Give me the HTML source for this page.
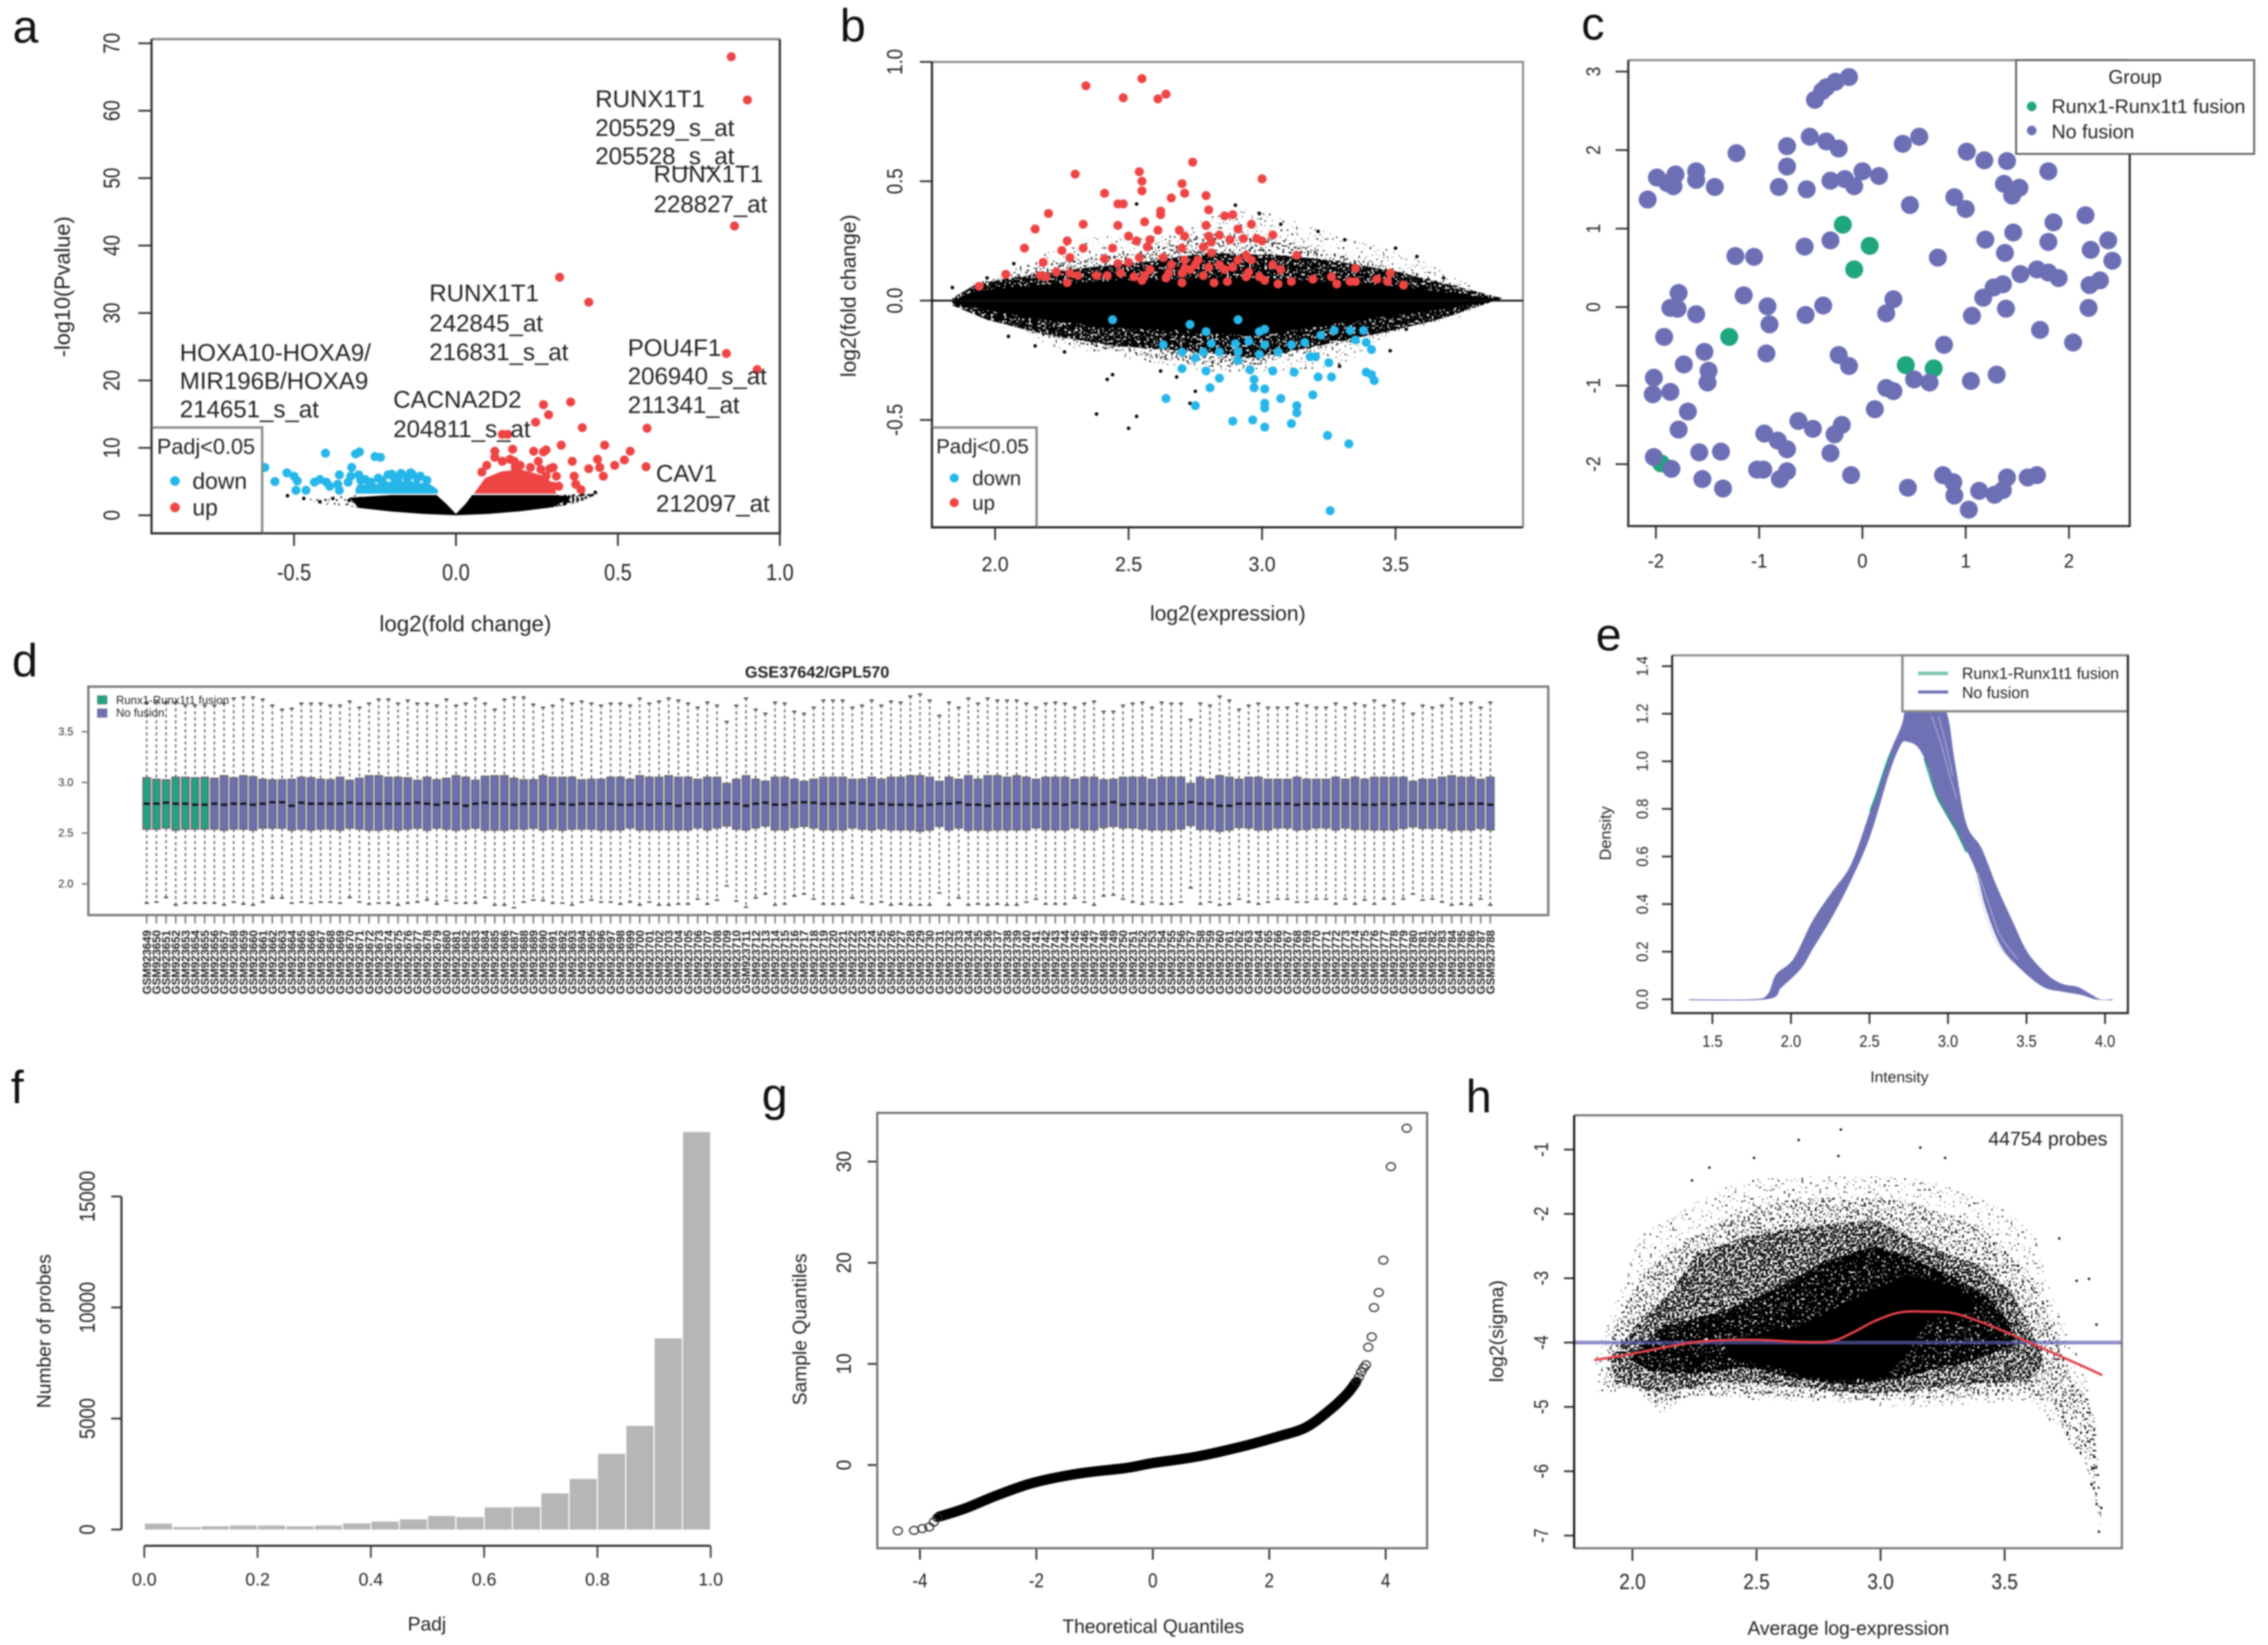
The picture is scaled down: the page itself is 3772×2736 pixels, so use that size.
<!DOCTYPE html>
<html lang="en">
<head>
<meta charset="utf-8">
<title>Microarray differential expression figure</title>
<style>
html,body{margin:0;padding:0;background:#fff;width:3772px;height:2736px;overflow:hidden}
svg{display:block;filter:blur(1.4px)}
text{font-family:"Liberation Sans",sans-serif;fill:#222}
.letter{font-size:77px;fill:#111}
</style>
</head>
<body>
<svg id="fig" xmlns="http://www.w3.org/2000/svg" width="3772" height="2736" viewBox="0 0 3772 2736">
<defs>
<filter id="speck-rare" x="0" y="0" width="100%" height="100%" color-interpolation-filters="sRGB">
<feTurbulence type="fractalNoise" baseFrequency="0.27" numOctaves="1" seed="4" result="n"/>
<feColorMatrix in="n" values="0 0 0 0 0 0 0 0 0 0 0 0 0 0 0 40 0 0 0 -27" result="m"/>
<feComposite in="SourceGraphic" in2="m" operator="in"/>
</filter>
<filter id="speck-sparse" x="0" y="0" width="100%" height="100%" color-interpolation-filters="sRGB">
<feTurbulence type="fractalNoise" baseFrequency="0.27" numOctaves="1" seed="7" result="n"/>
<feColorMatrix in="n" values="0 0 0 0 0 0 0 0 0 0 0 0 0 0 0 40 0 0 0 -24" result="m"/>
<feComposite in="SourceGraphic" in2="m" operator="in"/>
</filter>
<filter id="speck-mid" x="0" y="0" width="100%" height="100%" color-interpolation-filters="sRGB">
<feTurbulence type="fractalNoise" baseFrequency="0.27" numOctaves="1" seed="9" result="n"/>
<feColorMatrix in="n" values="0 0 0 0 0 0 0 0 0 0 0 0 0 0 0 40 0 0 0 -20" result="m"/>
<feComposite in="SourceGraphic" in2="m" operator="in"/>
</filter>
<filter id="speck-dense" x="0" y="0" width="100%" height="100%" color-interpolation-filters="sRGB">
<feTurbulence type="fractalNoise" baseFrequency="0.27" numOctaves="1" seed="15" result="n"/>
<feColorMatrix in="n" values="0 0 0 0 0 0 0 0 0 0 0 0 0 0 0 40 0 0 0 -16" result="m"/>
<feComposite in="SourceGraphic" in2="m" operator="in"/>
</filter>
</defs>
<rect x="0" y="0" width="3772" height="2736" fill="#fff"/>

<!-- PANEL A -->
<g>
<text class="letter" x="21" y="71">a</text>
<g id="a-marks"></g>
<g id="a-axes"></g>
<path d="M252 65H1297" stroke="#8a8a8a" stroke-width="4" fill="none"/>
<path d="M1297 65V887H252V65" stroke="#2a2a2a" stroke-width="3.5" fill="none"/>
<g font-size="40">
<text x="990" y="178" font-size="40">RUNX1T1</text>
<text x="990" y="226" font-size="40">205529_s_at</text>
<text x="990" y="273" font-size="40">205528_s_at</text>
<text x="1087" y="303" font-size="40">RUNX1T1</text>
<text x="1087" y="353" font-size="40">228827_at</text>
<text x="714" y="501" font-size="40">RUNX1T1</text>
<text x="714" y="551" font-size="40">242845_at</text>
<text x="714" y="599" font-size="40">216831_s_at</text>
<text x="299" y="600" font-size="40">HOXA10-HOXA9/</text>
<text x="299" y="647" font-size="40">MIR196B/HOXA9</text>
<text x="299" y="694" font-size="40">214651_s_at</text>
<text x="654" y="678" font-size="40">CACNA2D2</text>
<text x="654" y="727" font-size="40">204811_s_at</text>
<text x="1044" y="592" font-size="40">POU4F1</text>
<text x="1044" y="639" font-size="40">206940_s_at</text>
<text x="1044" y="687" font-size="40">211341_at</text>
<text x="1091" y="801" font-size="40">CAV1</text>
<text x="1091" y="851" font-size="40">212097_at</text>
</g>
<g>
<rect x="252" y="711" width="184" height="176" fill="#fff"/>
<path d="M252 711H436V887" fill="none" stroke="#8a8a8a" stroke-width="4"/>
<path d="M252 711V887H436" fill="none" stroke="#2a2a2a" stroke-width="3.5"/>
<text x="261" y="755" font-size="36">Padj&lt;0.05</text>
<circle cx="291" cy="800" r="8" fill="#27b6ea"/>
<text x="320" y="813" font-size="38">down</text>
<circle cx="291" cy="844" r="8" fill="#ee4444"/>
<text x="320" y="857" font-size="38">up</text>
</g>
<text transform="translate(116,477) rotate(-90)" text-anchor="middle" font-size="36">-log10(Pvalue)</text>
<text x="774" y="1050" text-anchor="middle" font-size="37">log2(fold change)</text>
</g>

<!-- PANEL B -->
<g>
<text class="letter" x="1397" y="69">b</text>
<g id="b-marks"></g>
<g id="b-axes"></g>
<path d="M1550 103H2533V877" stroke="#8a8a8a" stroke-width="3.5" fill="none"/>
<path d="M1550 103V877H2533" stroke="#222" stroke-width="3.5" fill="none"/>
<path id="b-zero" d="M1550 500H2533" stroke="#111" stroke-width="3" fill="none"/>
<g>
<rect x="1550" y="711" width="174" height="166" fill="#fff"/>
<path d="M1550 711H1724V877" fill="none" stroke="#8a8a8a" stroke-width="4"/>
<path d="M1550 711V877H1724" fill="none" stroke="#222" stroke-width="3.5"/>
<text x="1557" y="754" font-size="34">Padj&lt;0.05</text>
<circle cx="1587" cy="795" r="7.5" fill="#27b6ea"/>
<text x="1617" y="807" font-size="34">down</text>
<circle cx="1587" cy="836" r="7.5" fill="#ee4444"/>
<text x="1617" y="848" font-size="34">up</text>
</g>
<text transform="translate(1423,492) rotate(-90)" text-anchor="middle" font-size="35">log2(fold change)</text>
<text x="2042" y="1032" text-anchor="middle" font-size="35">log2(expression)</text>
</g>

<!-- PANEL C -->
<g>
<text class="letter" x="2630" y="66">c</text>
<g id="c-marks"></g>
<g id="c-axes"></g>
<path d="M2708 100H3542" stroke="#8a8a8a" stroke-width="3.5" fill="none"/>
<path d="M2708 100V875H3542V100" stroke="#2a2a2a" stroke-width="3.5" fill="none"/>
<g>
<rect x="3353" y="100" width="396" height="156" fill="#fff" stroke="#5a5a5a" stroke-width="3"/>
<text x="3551" y="139" text-anchor="middle" font-size="32">Group</text>
<circle cx="3379" cy="177" r="8" fill="#1fa67f"/>
<text x="3412" y="188" font-size="32.6">Runx1-Runx1t1 fusion</text>
<circle cx="3379" cy="217" r="8" fill="#6c6fb4"/>
<text x="3412" y="230" font-size="32.6">No fusion</text>
</g>
</g>

<!-- PANEL D -->
<g>
<text class="letter" x="20" y="1125">d</text>
<text x="1359" y="1127" text-anchor="middle" font-size="27" font-weight="bold">GSE37642/GPL570</text>
<g id="d-marks"></g>
<g id="d-axes"></g>
<rect x="147" y="1142" width="2428" height="380" fill="none" stroke="#7d7f7f" stroke-width="4"/>
<g>
<rect x="162" y="1157" width="16" height="14" fill="#1fa67f" stroke="#777" stroke-width="1"/>
<text x="193" y="1171" font-size="19">Runx1-Runx1t1 fusion</text>
<rect x="162" y="1179" width="16" height="14" fill="#6c6fb4" stroke="#777" stroke-width="1"/>
<text x="193" y="1192" font-size="19">No fusion</text>
</g>
</g>

<!-- PANEL E -->
<g>
<text class="letter" x="2654" y="1082">e</text>
<g id="e-marks"></g>
<g id="e-axes"></g>
<g>
<rect x="3164" y="1090" width="375" height="93" fill="#fff" stroke="#8a8a8a" stroke-width="4"/>
<path d="M3190 1120H3240" stroke="#7dc8ae" stroke-width="6"/>
<text x="3263" y="1129" font-size="26.4">Runx1-Runx1t1 fusion</text>
<path d="M3190 1151H3240" stroke="#6c6fb4" stroke-width="5"/>
<text x="3263" y="1161" font-size="26.4">No fusion</text>
</g>
<path d="M2781 1090H3164" stroke="#8a8a8a" stroke-width="3.5" fill="none"/>
<path d="M2781 1090V1685H3539V1090" stroke="#2a2a2a" stroke-width="3.5" fill="none"/>
<text transform="translate(2679,1386) rotate(-90)" text-anchor="middle" font-size="27">Density</text>
<text x="3159" y="1800" text-anchor="middle" font-size="26">Intensity</text>
</g>

<!-- PANEL F -->
<g>
<text class="letter" x="18" y="1835">f</text>
<g id="f-marks"></g>
<g id="f-axes"></g>
<text transform="translate(84,2214) rotate(-90)" text-anchor="middle" font-size="32">Number of probes</text>
<text x="710" y="2712" text-anchor="middle" font-size="32">Padj</text>
</g>

<!-- PANEL G -->
<g>
<text class="letter" x="1267" y="1847">g</text>
<g id="g-marks"></g>
<g id="g-axes"></g>
<rect x="1459" y="1851" width="914.5" height="724" fill="none" stroke="#6e6e6e" stroke-width="3.5"/>
<text transform="translate(1341,2211) rotate(-90)" text-anchor="middle" font-size="32">Sample Quantiles</text>
<text x="1918" y="2716" text-anchor="middle" font-size="32">Theoretical Quantiles</text>
</g>

<!-- PANEL H -->
<g>
<text class="letter" x="2438" y="1850">h</text>
<g id="h-marks"></g>
<g id="h-axes"></g>
<path d="M2618 1855H3529V2575H2618" stroke="#777" stroke-width="3.5" fill="none"/>
<path d="M2618 1855V2575" stroke="#111" stroke-width="3.5" fill="none"/>
<text x="3505" y="1905" text-anchor="end" font-size="32.4">44754 probes</text>
<text transform="translate(2500,2214) rotate(-90)" text-anchor="middle" font-size="32.5">log2(sigma)</text>
<text x="3074" y="2719" text-anchor="middle" font-size="32">Average log-expression</text>
</g>
</svg>

<script>
// ---------- Panel a values (log2 fold change, -log10 p) ----------
const aXTicks = [-0.5, 0, 0.5, 1];
const aXLabels = ['-0.5', '0.0', '0.5', '1.0'];
const aYTicks = [0, 10, 20, 30, 40, 50, 60, 70];
const aYLabels = ['0', '10', '20', '30', '40', '50', '60', '70'];
const aCloudX = [-.33,-.2,-.06,-.03,0,.03,.05,.2,.3,.36,.3,.2,.1,0,-.1,-.2,-.3];
const aCloudY = [2.6,3,3,1.7,.2,1.7,3,3,3,2.8,1.2,.6,.2,0,.2,.55,1.1];
const aFringeLeftX = [-.46,-.3,-.3,-.42];
const aFringeLeftY = [2.4,3,1,1.7];
const aFringeRightX = [.3,.44,.38,.28];
const aFringeRightY = [3,3.2,1.9,1];
const aUpAreaX = [.055,.09,.14,.2,.26,.3,.31];
const aUpAreaY = [3.2,5.5,6.5,6.8,6,4.8,3.2];
const aDownAreaX = [-.31,-.31,-.25,-.2,-.13,-.08,-.056,-.056];
const aDownAreaY = [3.2,4,4.6,5,5,4.6,3.8,3.2];
const aUpX = [.85,.90,.86,.32,.41,.835,.93,.27,.354,.286,.39,.246,.59,.143,.16,.325,.459,.538,.24,.278,.175,.12,.18,.254,.359,.437,.52,.49,.587,.41,.444,.30,.365,.455,.37,.386,.31,.27,.29,.12,.143,.167,.198,.23,.262,.095,.08,.278,.317,.30,.183];
const aUpY = [68,61.6,42.9,35.3,31.6,24,21.6,16.4,16.8,14.9,13,13.8,12.9,12,12,10.4,10.4,9.5,9.5,9.7,9.8,9.5,8,8,8,8.3,8.2,7.4,7.2,6.9,7.1,7.1,5.8,5.8,4.6,3.8,5.8,9.4,6.9,8.6,8,8.3,7.4,7.1,6.8,7.4,6.4,5.8,4.3,4.3,7.1];
const aDownX = [-.403,-.31,-.298,-.25,-.233,-.59,-.522,-.559,-.5,-.49,-.494,-.463,-.437,-.42,-.4,-.39,-.36,-.365,-.36,-.322,-.325,-.333,-.294,-.294,-.262,-.222,-.198,-.167,-.135,-.18,-.12,-.24,-.21,-.17,-.14,-.11,-.09,-.19,-.15,-.23,-.28,-.3,-.27];
const aDownY = [9.2,9.1,9.4,8.7,8.6,7.1,6.3,5,5.8,5.1,3.7,3.7,4.9,5.3,4.9,4.3,6,4.6,3.7,7.1,5.8,4.9,5.2,4,4.9,4.6,6.1,6.1,6.1,5.2,5.5,5.5,6,6.2,6.3,5.8,5.2,5.5,5.4,5.2,5.3,6,4.2];
const aNsX = [-.52,-.47,-.42,-.38,-.33,-.295,.34,.43,.39,.335];
const aNsY = [2.9,2.5,2,2.5,2.2,2.5,2.2,3.4,3.1,1.7];

// ---------- Panel b values (log2 expression, log2 fold change) ----------
const bXTicks = [2, 2.5, 3, 3.5];
const bXLabels = ['2.0', '2.5', '3.0', '3.5'];
const bYTicks = [-0.5, 0, 0.5, 1];
const bYLabels = ['-0.5', '0.0', '0.5', '1.0'];
const bCoreX = [1.84,1.93,2.09,2.36,2.54,2.80,3.07,3.25,3.51,3.69,3.90,3.69,3.51,3.25,2.98,2.71,2.45,2.18,1.97,1.84];
const bCoreY = [0,.04,.06,.08,.085,.095,.09,.08,.06,.035,.003,-.035,-.06,-.1,-.15,-.125,-.115,-.08,-.04,-.012];
const bFringeX = [1.84,1.93,2.09,2.36,2.54,2.80,3.07,3.25,3.51,3.69,3.90,3.69,3.51,3.25,2.98,2.71,2.45,2.18,1.97,1.84];
const bFringeY = [.01,.07,.1,.14,.16,.2,.19,.17,.12,.07,.01,-.07,-.12,-.18,-.24,-.21,-.19,-.14,-.08,-.02];
const bMidX = [1.87,2.0,2.22,2.5,2.8,3.1,3.4,3.6,3.75,3.7,3.45,3.2,2.95,2.7,2.4,2.15,2.0,1.87];
const bMidY = [.03,.09,.16,.2,.28,.25,.16,.11,.06,-.07,-.14,-.21,-.28,-.26,-.2,-.14,-.07,-.01];
const bHaloX = [1.88,2.0,2.22,2.39,2.64,2.89,3.0,3.21,3.31,3.46,3.60,3.73,3.85,3.75,3.50,3.30,3.07,2.80,2.64,2.45,2.22,2.06,1.90];
const bHaloY = [.06,.097,.22,.27,.27,.39,.375,.30,.26,.22,.165,.095,.02,-.068,-.13,-.27,-.30,-.30,-.27,-.233,-.198,-.11,-.033];
const bNsX = [2.53,2.90,2.99,3.07,3.21,3.31,3.50,3.58,3.68,2.38,2.53,2.50,2.42,2.44,2.75,2.73,2.62,2.68,3.29,3.48,3.54,2.26,2.15,2.05,1.84,1.97,2.07];
const bNsY = [.405,.40,.365,.32,.29,.255,.22,.185,.095,-.475,-.485,-.535,-.33,-.31,-.38,-.43,-.295,-.32,-.275,-.21,-.12,-.215,-.19,-.15,.055,.095,.155];
const bUpX = [2.34,2.55,2.48,2.61,2.64,2.74,2.30,2.54,2.55,3.00,2.41,2.55,2.70,2.71,2.79,2.66,2.46,2.48,2.80,2.20,2.62,2.62,2.86,2.89,2.33,2.56,2.46,2.79,2.96,2.15,2.61,2.69,2.91,2.27,2.50,2.53,2.58,2.71,2.84,2.80,2.98,3.04,2.11,2.33,2.44,2.57,2.70,2.78,2.81,2.88,2.93,3.00,2.25,2.28,2.41,2.81,2.94,2.18,2.46,2.50,2.54,2.63,2.71,2.76,2.84,2.91,2.96,3.04,3.13,3.35,2.04,2.17,2.19,2.23,2.28,2.31,2.38,2.42,2.47,2.52,2.56,2.58,2.65,2.70,2.73,2.80,2.86,2.89,2.95,3.07,3.48,1.94,2.27,2.55,2.64,2.70,2.78,2.82,2.87,2.94,3.01,3.06,3.11,3.19,3.26,3.28,3.33,3.35,3.43,3.47,3.53,2.66,2.71,2.75,2.99];
const bUpY = [.90,.93,.85,.845,.865,.58,.53,.54,.50,.51,.45,.46,.49,.45,.44,.43,.405,.405,.38,.365,.375,.36,.355,.36,.32,.33,.315,.315,.32,.30,.295,.295,.30,.25,.27,.25,.255,.27,.275,.27,.26,.275,.22,.22,.22,.225,.22,.225,.245,.255,.26,.25,.21,.18,.175,.20,.19,.16,.155,.16,.18,.18,.17,.17,.15,.17,.17,.15,.19,.135,.11,.105,.10,.12,.115,.105,.105,.105,.115,.10,.105,.13,.115,.115,.13,.14,.13,.14,.12,.13,.115,.06,.075,.085,.095,.075,.105,.075,.08,.10,.085,.07,.08,.09,.10,.07,.08,.08,.09,.08,.065,.15,.135,.15,.10];
const bDownX = [2.44,2.73,2.91,2.99,3.01,2.79,2.63,2.81,2.90,2.95,3.01,3.11,3.16,3.22,3.27,3.33,3.38,3.35,3.39,3.41,2.78,2.84,2.91,2.99,3.06,3.18,3.20,3.25,2.70,2.75,2.91,2.70,2.79,2.955,3.04,3.12,3.21,3.26,3.39,3.41,3.42,2.84,2.97,2.97,2.805,3.01,2.64,3.07,3.19,2.75,3.01,3.01,3.13,3.13,2.89,2.965,3.01,3.11,3.245,3.325,3.255];
const bDownY = [-.08,-.10,-.08,-.13,-.12,-.13,-.185,-.18,-.18,-.17,-.185,-.185,-.175,-.145,-.125,-.125,-.125,-.165,-.175,-.205,-.215,-.215,-.215,-.225,-.215,-.235,-.235,-.26,-.215,-.24,-.25,-.285,-.295,-.29,-.295,-.30,-.32,-.32,-.30,-.31,-.335,-.325,-.33,-.365,-.365,-.37,-.41,-.41,-.395,-.44,-.43,-.45,-.44,-.47,-.505,-.50,-.53,-.515,-.565,-.60,-.88];

// ---------- Panel c values (two projected components) ----------
const cXTicks = [-2, -1, 0, 1, 2];
const cXLabels = ['-2', '-1', '0', '1', '2'];
const cYTicks = [-2, -1, 0, 1, 2, 3];
const cYLabels = ['-2', '-1', '0', '1', '2', '3'];
const cFusionX = [-.19,.07,-.08,-1.29,.42,.69,-1.95];
const cFusionY = [1.05,.78,.48,-.38,-.74,-.78,-1.99];
const cOtherX = [-.46,-.39,-.35,-.26,-.13,-.51,-.35,-.23,-.73,-1.22,.39,.55,1.01,1.18,1.40,1.80,-.73,-1.99,-1.89,-1.83,-1.81,-1.61,-1.61,-1.43,-2.08,-.81,-.54,-.31,-.17,-.08,0,.16,.46,.89,1.0,1.37,1.45,1.52,2.16,1.85,1.46,1.19,1.80,2.38,2.21,2.42,1.38,.73,-.56,-.31,-1.23,-1.05,1.53,1.69,1.80,1.90,1.36,1.27,1.17,2.20,2.30,.30,.23,1.39,1.06,2.19,-1.78,-1.86,-1.79,-1.61,-1.15,-.92,-.90,-.38,-.55,-1.92,1.72,2.04,.79,-1.53,-.93,-1.73,-.23,-.13,-1.49,-1.50,-2.02,-2.03,-1.86,1.30,1.05,.50,.65,.23,.30,.12,-1.69,-1.78,-.62,-.48,-.20,-.27,-.95,-.82,-.73,-.31,-1.58,-1.37,-2.02,-1.85,-1.55,-1.35,-1.02,-.96,-.80,-.73,-.11,.44,.78,.88,.89,1.03,1.13,1.28,1.36,1.40,1.60,1.69];
const cOtherY = [2.64,2.75,2.80,2.87,2.93,2.17,2.11,2.02,2.05,1.96,2.08,2.17,1.98,1.87,1.86,1.73,1.79,1.65,1.58,1.54,1.69,1.73,1.62,1.53,1.37,1.53,1.50,1.61,1.63,1.54,1.73,1.67,1.30,1.40,1.25,1.57,1.42,1.52,1.17,1.08,.95,.86,.83,.85,.73,.59,.69,.63,.77,.85,.65,.64,.42,.48,.44,.37,.29,.25,.12,.28,.34,.10,-.08,-.02,-.11,-.01,.18,-.01,-.02,-.09,.15,.01,-.22,.02,-.10,-.38,-.29,-.45,-.48,-.57,-.59,-.73,-.61,-.75,-.81,-.96,-.90,-1.11,-1.08,-.86,-.94,-.92,-.96,-1.03,-1.07,-1.30,-1.33,-1.56,-1.45,-1.55,-1.50,-1.62,-1.61,-1.70,-1.81,-1.86,-1.85,-1.84,-1.91,-2.06,-2.19,-2.31,-2.07,-2.07,-2.19,-2.09,-2.14,-2.30,-2.14,-2.23,-2.40,-2.58,-2.34,-2.39,-2.33,-2.17,-2.17,-2.14];

// ---------- Panel d values (per-sample box statistics) ----------
const dYTicks = [2, 2.5, 3, 3.5];
const dYLabels = ['2.0', '2.5', '3.0', '3.5'];
const dFusionCount = 7;
const dWhiskerHigh = [3.79,3.79,3.79,3.79,3.76,3.76,3.76,3.76,3.78,3.83,3.84,3.84,3.82,3.76,3.72,3.73,3.78,3.78,3.78,3.76,3.76,3.80,3.74,3.78,3.82,3.82,3.78,3.81,3.78,3.78,3.76,3.82,3.76,3.78,3.83,3.78,3.72,3.82,3.84,3.84,3.77,3.74,3.76,3.82,3.78,3.80,3.78,
3.76,3.78,3.78,3.76,3.83,3.78,3.80,3.83,3.81,3.78,3.74,3.79,3.76,3.60,3.76,3.83,3.72,3.68,3.79,3.78,3.70,3.68,3.74,3.81,3.81,3.81,3.74,3.76,3.81,3.76,3.80,3.79,3.85,3.87,3.81,3.66,3.79,3.74,3.83,3.78,3.83,3.81,3.81,3.81,3.78,3.74,3.78,3.79,3.78,3.74,
3.78,3.80,3.70,3.70,3.76,3.78,3.79,3.74,3.79,3.78,3.78,3.62,3.78,3.76,3.85,3.81,3.72,3.76,3.78,3.74,3.74,3.74,3.78,3.76,3.74,3.74,3.78,3.74,3.78,3.76,3.81,3.76,3.81,3.78,3.68,3.76,3.74,3.76,3.83,3.78,3.79,3.74,3.79];
const dWhiskerLow = [1.81,1.82,1.865,1.79,1.81,1.81,1.81,1.81,1.79,1.82,1.80,1.79,1.82,1.86,1.86,1.81,1.82,1.81,1.82,1.82,1.81,1.865,1.82,1.80,1.81,1.81,1.79,1.81,1.82,1.84,1.80,1.835,1.81,1.81,1.81,1.865,1.79,1.79,1.765,1.82,1.84,1.835,1.81,1.81,1.79,1.82,1.84,
1.82,1.82,1.80,1.82,1.79,1.82,1.79,1.79,1.80,1.80,1.85,1.80,1.84,1.98,1.83,1.77,1.86,1.90,1.79,1.80,1.88,1.90,1.85,1.80,1.80,1.80,1.86,1.82,1.80,1.82,1.79,1.80,1.79,1.79,1.79,1.91,1.79,1.86,1.79,1.80,1.79,1.80,1.79,1.79,1.82,1.85,1.80,1.80,1.80,1.86,
1.82,1.79,1.88,1.89,1.85,1.82,1.80,1.82,1.80,1.80,1.82,1.96,1.80,1.82,1.79,1.80,1.85,1.82,1.80,1.82,1.85,1.85,1.82,1.82,1.85,1.85,1.80,1.85,1.80,1.84,1.80,1.85,1.80,1.85,1.90,1.84,1.85,1.82,1.79,1.80,1.79,1.85,1.79];
const dQ3 = [3.045,3.03,3.025,3.05,3.05,3.045,3.05,3.04,3.065,3.045,3.065,3.055,3.03,3.025,3.025,3.03,3.05,3.045,3.03,3.025,3.05,3.02,3.04,3.065,3.065,3.05,3.05,3.045,3.02,3.05,3.025,3.04,3.065,3.05,3.02,3.06,3.065,3.065,3.04,3.025,3.025,3.065,3.05,3.05,3.05,3.025,3.03,
3.03,3.05,3.05,3.03,3.065,3.05,3.05,3.065,3.05,3.05,3.03,3.05,3.05,2.99,3.03,3.065,3.03,3.01,3.05,3.05,3.03,3.01,3.03,3.05,3.05,3.05,3.03,3.03,3.05,3.03,3.05,3.05,3.065,3.065,3.05,3.01,3.05,3.03,3.065,3.03,3.065,3.065,3.05,3.065,3.05,3.03,3.05,3.05,3.05,3.03,
3.05,3.05,3.025,3.03,3.05,3.05,3.05,3.03,3.05,3.05,3.05,2.99,3.05,3.03,3.065,3.05,3.03,3.05,3.05,3.03,3.03,3.03,3.05,3.03,3.03,3.03,3.05,3.03,3.05,3.03,3.05,3.05,3.05,3.05,3.01,3.03,3.03,3.05,3.065,3.05,3.05,3.03,3.05];
const dQ1 = [2.54,2.54,2.55,2.53,2.54,2.54,2.54,2.54,2.53,2.54,2.54,2.53,2.55,2.55,2.55,2.53,2.54,2.53,2.54,2.54,2.53,2.55,2.54,2.53,2.53,2.54,2.53,2.54,2.55,2.53,2.55,2.54,2.53,2.54,2.55,2.53,2.53,2.53,2.54,2.54,2.55,2.53,2.54,2.53,2.54,2.54,2.54,
2.532,2.532,2.532,2.552,2.532,2.532,2.532,2.532,2.532,2.532,2.552,2.532,2.552,2.572,2.54,2.532,2.552,2.572,2.532,2.532,2.556,2.568,2.552,2.532,2.532,2.532,2.552,2.54,2.532,2.544,2.532,2.532,2.532,2.52,2.532,2.568,2.532,2.552,2.528,2.532,2.528,2.532,2.532,2.532,2.532,2.552,2.532,2.532,2.532,2.552,
2.532,2.532,2.556,2.568,2.552,2.552,2.542,2.532,2.532,2.532,2.542,2.576,2.536,2.536,2.52,2.532,2.556,2.552,2.532,2.532,2.552,2.552,2.532,2.536,2.552,2.552,2.532,2.552,2.536,2.536,2.532,2.532,2.532,2.548,2.564,2.548,2.548,2.548,2.528,2.532,2.532,2.548,2.532];
const dMedian = [2.79,2.79,2.80,2.79,2.79,2.78,2.78,2.79,2.78,2.79,2.79,2.78,2.79,2.805,2.805,2.77,2.80,2.79,2.79,2.79,2.79,2.80,2.79,2.79,2.79,2.79,2.79,2.79,2.80,2.79,2.78,2.80,2.79,2.77,2.79,2.80,2.79,2.79,2.78,2.79,2.79,2.79,2.78,2.79,2.78,2.79,2.79,
2.79,2.79,2.78,2.78,2.79,2.78,2.79,2.79,2.77,2.79,2.79,2.79,2.79,2.80,2.79,2.77,2.79,2.80,2.78,2.78,2.80,2.805,2.80,2.79,2.79,2.79,2.80,2.79,2.78,2.79,2.78,2.78,2.78,2.77,2.78,2.79,2.79,2.80,2.78,2.78,2.77,2.79,2.79,2.79,2.79,2.79,2.79,2.79,2.78,2.80,
2.79,2.78,2.79,2.805,2.78,2.79,2.79,2.78,2.79,2.79,2.79,2.805,2.79,2.79,2.77,2.77,2.79,2.79,2.79,2.79,2.79,2.79,2.78,2.79,2.79,2.79,2.79,2.79,2.79,2.78,2.78,2.79,2.78,2.79,2.795,2.79,2.79,2.795,2.78,2.79,2.79,2.79,2.78];
const dSampleIds = dWhiskerHigh.map(function (v, i) { return 'GSM923' + (649 + i); });

// ---------- Panel e values (density band) ----------
const eXTicks = [1.5, 2, 2.5, 3, 3.5, 4];
const eXLabels = ['1.5', '2.0', '2.5', '3.0', '3.5', '4.0'];
const eYTicks = [0, .2, .4, .6, .8, 1, 1.2, 1.4];
const eYLabels = ['0.0', '0.2', '0.4', '0.6', '0.8', '1.0', '1.2', '1.4'];
const eUpperX = [1.35,1.75,1.85,1.906,2.016,2.138,2.26,2.383,2.505,2.627,2.71,2.75,2.9,2.994,3.043,3.116,3.214,3.31,3.41,3.507,3.63,3.727,3.825,3.9,3.97,4.04];
const eUpperY = [0,0,.02,.105,.17,.33,.45,.568,.793,1.03,1.164,1.3,1.3,1.2,1.0,.74,.634,.475,.33,.197,.105,.065,.052,.025,0,0];
const eLowerX = [1.35,1.845,1.94,2.065,2.138,2.26,2.383,2.505,2.627,2.70,2.742,2.81,2.87,2.933,3.006,3.09,3.177,3.24,3.336,3.458,3.605,3.727,3.85,3.935,4.04];
const eLowerY = [-.004,0,.05,.13,.21,.343,.50,.687,.952,1.07,1.082,1.058,.98,.846,.754,.66,.54,.383,.224,.13,.052,.032,.018,0,-.004];
const eGapAX = [2.896,2.957,3.006,3.055];
const eGapAY = [1.19,1.07,.95,.846];
const eGapA2X = [2.94,2.99,3.03];
const eGapA2Y = [1.19,1.06,.94];
const eGapBX = [3.177,3.24,3.31,3.41];
const eGapBY = [.50,.356,.237,.158];
const eGapB2X = [3.19,3.26,3.33,3.44];
const eGapB2Y = [.53,.40,.27,.17];
const eFusionLeftX = [2.505,2.55,2.60,2.63];
const eFusionLeftY = [.793,.875,.975,1.03];
const eFusionRightX = [2.85,2.93,3.018,3.116];
const eFusionRightY = [1.01,.85,.754,.62];

// ---------- Panel f values (Padj histogram) ----------
const fXTicks = [0, .2, .4, .6, .8, 1];
const fXLabels = ['0.0', '0.2', '0.4', '0.6', '0.8', '1.0'];
const fYTicks = [0, 5000, 10000, 15000];
const fYLabels = ['0', '5000', '10000', '15000'];
const fCounts = [264,115,150,180,180,150,180,280,360,460,610,560,1000,1020,1630,2280,3410,4670,8610,17900];
const fBinWidth = 0.05;

// ---------- Panel g values (QQ) ----------
const gXTicks = [-4, -2, 0, 2, 4];
const gXLabels = ['-4', '-2', '0', '2', '4'];
const gYTicks = [0, 10, 20, 30];
const gYLabels = ['0', '10', '20', '30'];
const gBodyX = [-3.67,-3.23,-2.68,-2.05,-1.26,-.47,0,.72,1.51,2.14,2.62,3.01,3.33,3.49];
const gBodyY = [-5.1,-4.3,-3.0,-1.75,-.83,-.3,.2,.8,1.8,2.8,3.7,5.3,7,8.2];
const gTailX = [4.36,4.09,3.96,3.88,3.80,3.76,3.70,3.5,3.54,3.58,3.62,3.66,-4.38,-4.10,-3.96,-3.84,-3.76,-3.7];
const gTailY = [33.3,29.5,20.25,17.06,15.57,12.67,11.65,8.3,8.7,9.2,9.6,9.9,-6.5,-6.46,-6.28,-6.13,-5.63,-5.2];

// ---------- Panel h values (mean-variance) ----------
const hXTicks = [2, 2.5, 3, 3.5];
const hXLabels = ['2.0', '2.5', '3.0', '3.5'];
const hYTicks = [-1, -2, -3, -4, -5, -6, -7];
const hYLabels = ['-1', '-2', '-3', '-4', '-5', '-6', '-7'];
const hOuterX = [1.85,1.95,2.03,2.16,2.26,2.40,2.57,2.78,2.98,3.19,3.39,3.54,3.64,3.66,3.76,3.85,3.78,3.70,3.60,3.39,3.08,2.78,2.49,2.26,2.11,2.03,1.86];
const hOuterY = [-4.26,-3.18,-2.33,-2.04,-1.81,-1.53,-1.42,-1.42,-1.42,-1.47,-1.70,-2.04,-2.44,-2.95,-3.87,-4.78,-5.1,-5.3,-4.89,-4.95,-5.01,-4.92,-4.89,-4.83,-5.12,-4.66,-4.83];
const hTailX = [3.7,3.78,3.86,3.88,3.89,3.86,3.83,3.75];
const hTailY = [-5,-4.6,-5,-6,-6.9,-6.4,-5.9,-5.5];
const hBroadX = [1.88,1.92,2.05,2.2,2.4,2.6,2.8,3.0,3.2,3.4,3.55,3.65,3.72,3.78,3.75,3.6,3.3,3.0,2.7,2.4,2.2,2.1,2.0];
const hBroadY = [-4.7,-3.8,-2.9,-2.45,-2.0,-1.8,-1.75,-1.75,-1.9,-2.2,-2.7,-3.3,-4,-4.7,-5,-4.8,-4.85,-4.9,-4.85,-4.8,-4.85,-5,-4.7];
const hMidX = [1.91,2.01,2.16,2.26,2.47,2.78,2.98,3.19,3.39,3.52,3.60,3.66,3.60,3.29,3.08,2.88,2.57,2.36,2.12,1.93];
const hMidY = [-4.26,-3.75,-3.18,-2.61,-2.33,-2.16,-2.10,-2.50,-2.78,-3.18,-3.75,-4.32,-4.61,-4.66,-4.78,-4.78,-4.66,-4.61,-4.78,-4.61];
const hDenseX = [2.03,2.12,2.36,2.57,2.78,2.98,3.15,3.31,3.44,3.52,3.54,3.39,3.08,2.88,2.65,2.45,2.26,2.07,1.99];
const hDenseY = [-4.09,-3.75,-3.52,-3.18,-2.73,-2.50,-2.73,-3.01,-3.30,-3.70,-4.04,-4.26,-4.55,-4.66,-4.55,-4.38,-4.49,-4.44,-4.26];
const hSolidX = [2.36,2.67,2.90,3.10,3.31,3.39,3.19,3.10,3.02,2.78,2.57,2.40];
const hSolidY = [-3.98,-3.75,-3.30,-2.95,-3.13,-3.52,-3.64,-4.21,-4.55,-4.58,-4.38,-4.26];
const hOutlierX = [2.84,2.67,3.16,2.31,2.24,2.49,2.83,3.26,3.84,3.79,3.87,3.89,3.88,3.86,3.85,3.72];
const hOutlierY = [-.69,-.85,-.97,-1.28,-1.48,-1.13,-1.10,-1.13,-3.01,-3.04,-3.72,-6.57,-6.94,-5.95,-6.2,-2.38];
const hTrendX = [1.85,1.99,2.15,2.26,2.38,2.53,2.67,2.80,2.88,2.98,3.08,3.19,3.29,3.39,3.49,3.60,3.70,3.80,3.89];
const hTrendY = [-4.27,-4.18,-4.06,-3.99,-3.96,-3.96,-3.99,-3.98,-3.86,-3.66,-3.53,-3.52,-3.54,-3.66,-3.81,-4.0,-4.17,-4.34,-4.5];
const hPriorValue = -4;

// ---------- Helpers ----------
const NS = 'http://www.w3.org/2000/svg';
function lin(d0, p0, d1, p1) { return function (v) { return p0 + (v - d0) * (p1 - p0) / (d1 - d0); }; }
function byId(id) { return document.getElementById(id); }
function make(tag, parent, attrs) {
  const el = document.createElementNS(NS, tag);
  for (const k in attrs) el.setAttribute(k, attrs[k]);
  parent.appendChild(el);
  return el;
}
function pathOf(xs, ys, sx, sy, close, smooth) {
  const px = xs.map(sx), py = ys.map(sy), n = xs.length;
  let d = 'M' + px[0].toFixed(1) + ' ' + py[0].toFixed(1);
  for (let i = 0; i < n - 1; i++) {
    if (smooth) {
      const a = Math.max(i - 1, 0), b = Math.min(i + 2, n - 1);
      const c1x = px[i] + (px[i + 1] - px[a]) / 6, c1y = py[i] + (py[i + 1] - py[a]) / 6;
      const c2x = px[i + 1] - (px[b] - px[i]) / 6, c2y = py[i + 1] - (py[b] - py[i]) / 6;
      d += 'C' + c1x.toFixed(1) + ' ' + c1y.toFixed(1) + ' ' + c2x.toFixed(1) + ' ' + c2y.toFixed(1) + ' ' + px[i + 1].toFixed(1) + ' ' + py[i + 1].toFixed(1);
    } else {
      d += 'L' + px[i + 1].toFixed(1) + ' ' + py[i + 1].toFixed(1);
    }
  }
  return d + (close ? 'Z' : '');
}
function drawArea(parent, xs, ys, sx, sy, fill, filter, smooth) {
  const attrs = { d: pathOf(xs, ys, sx, sy, true, smooth), fill: fill };
  if (filter) attrs.filter = 'url(#' + filter + ')';
  const el = make('path', parent, attrs);
  
  
  return el;
}
function drawLine(parent, xs, ys, sx, sy, stroke, width, opacity) {
  const el = make('path', parent, { d: pathOf(xs, ys, sx, sy, false, true), fill: 'none', stroke: stroke, 'stroke-width': width, 'stroke-linejoin': 'round', 'stroke-linecap': 'round', 'stroke-opacity': opacity === undefined ? 1 : opacity });
  
  
  return el;
}
function drawPoints(parent, xs, ys, sx, sy, fill, r) {
  for (let i = 0; i < xs.length; i++) {
    const el = make('circle', parent, { cx: sx(xs[i]).toFixed(1), cy: sy(ys[i]).toFixed(1), r: r, fill: fill });
    
    
  }
}
function drawRings(parent, xs, ys, sx, sy) {
  for (let i = 0; i < xs.length; i++) {
    const el = make('ellipse', parent, { cx: sx(xs[i]).toFixed(1), cy: sy(ys[i]).toFixed(1), rx: 7.5, ry: 6.5, fill: 'none', stroke: '#222', 'stroke-width': 2 });
    
    
  }
}
function xAxis(parent, vals, labels, sx, y0, len, base, size, squeeze, col) {
  for (let i = 0; i < vals.length; i++) {
    const x = sx(vals[i]);
    const t = make('line', parent, { x1: x, x2: x, y1: y0, y2: y0 + len, stroke: col, 'stroke-width': 3 });
    
    
    const l = make('text', parent, { transform: 'translate(' + x + ',' + base + ') scale(' + squeeze + ',1)', 'text-anchor': 'middle', 'font-size': size });
    
    
    l.textContent = labels[i];
  }
}
function yAxis(parent, vals, labels, sy, x0, len, xc, size, squeeze, col) {
  for (let i = 0; i < vals.length; i++) {
    const y = sy(vals[i]);
    const t = make('line', parent, { x1: x0 - len, x2: x0, y1: y, y2: y, stroke: col, 'stroke-width': 3 });
    
    
    const l = make('text', parent, { transform: 'translate(' + (xc + size * 0.35) + ',' + y + ') rotate(-90) scale(' + squeeze + ',1)', 'text-anchor': 'middle', 'font-size': size });
    
    
    l.textContent = labels[i];
  }
}

// ---------- Panel a ----------
(function () {
  const sx = lin(-.5, 489, 1, 1297), sy = lin(0, 857, 70, 72), g = byId('a-marks'), ax = byId('a-axes');
  drawArea(g, aFringeLeftX, aFringeLeftY, sx, sy, '#000', 'speck-sparse');
  drawArea(g, aFringeRightX, aFringeRightY, sx, sy, '#000', 'speck-mid');
  drawArea(g, aCloudX, aCloudY, sx, sy, '#000');
  drawPoints(g, aNsX, aNsY, sx, sy, '#000', 3);
  drawArea(g, aUpAreaX, aUpAreaY, sx, sy, '#ee4444');
  drawArea(g, aDownAreaX, aDownAreaY, sx, sy, '#27b6ea');
  drawPoints(g, aUpX, aUpY, sx, sy, '#ee4444', 7.5);
  drawPoints(g, aDownX, aDownY, sx, sy, '#27b6ea', 7.5);
  xAxis(ax, aXTicks, aXLabels, sx, 887, 21, 965, 39, .85, '#333');
  yAxis(ax, aYTicks, aYLabels, sy, 252, 22, 185, 38, .82, '#333');
})();

// ---------- Panel b ----------
(function () {
  const sx = lin(2, 1655, 3.5, 2321), sy = lin(0, 500, 1, 103), g = byId('b-marks'), ax = byId('b-axes');
  drawArea(g, bHaloX, bHaloY, sx, sy, '#000', 'speck-rare');
  drawArea(g, bMidX, bMidY, sx, sy, '#000', 'speck-sparse');
  drawArea(g, bFringeX, bFringeY, sx, sy, '#000', 'speck-dense');
  drawArea(g, bCoreX, bCoreY, sx, sy, '#000');
  drawPoints(g, bNsX, bNsY, sx, sy, '#000', 3);
  drawPoints(g, bUpX, bUpY, sx, sy, '#ee4444', 7.5);
  drawPoints(g, bDownX, bDownY, sx, sy, '#27b6ea', 7.5);
  xAxis(ax, bXTicks, bXLabels, sx, 877, 21, 950, 34, .95, '#333');
  yAxis(ax, bYTicks, bYLabels, sy, 1550, 20, 1488, 36, .86, '#333');
})();

// ---------- Panel c ----------
(function () {
  const sx = lin(-2, 2754, 2, 3441), sy = lin(-2, 772, 3, 119), g = byId('c-marks'), ax = byId('c-axes');
  drawPoints(g, cFusionX, cFusionY, sx, sy, '#1fa67f', 15);
  drawPoints(g, cOtherX, cOtherY, sx, sy, '#6c6fb4', 15);
  xAxis(ax, cXTicks, cXLabels, sx, 875, 21, 944, 32, .95, '#333');
  yAxis(ax, cYTicks, cYLabels, sy, 2708, 21, 2650, 32, .9, '#333');
})();

// ---------- Panel d ----------
(function () {
  const sx = lin(0, 244, 139, 2478.6), sy = lin(2, 1470, 3.5, 1217), g = byId('d-marks'), ax = byId('d-axes');
  for (let i = 0; i < dWhiskerHigh.length; i++) {
    const x = sx(i);
    const hi = sy(dWhiskerHigh[i]);
    const lo = sy(dWhiskerLow[i] ?? 1.81);
    const q3 = sy(dQ3[i] ?? 3.04);
    const q1 = sy(dQ1[i] ?? 2.54);
    const med = sy(dMedian[i] ?? 2.79);
    const w1 = make('line', g, { x1: x, x2: x, y1: hi, y2: q3, stroke: '#555', 'stroke-width': 2.2, 'stroke-dasharray': '5 5' });
    
    
    const w2 = make('line', g, { x1: x, x2: x, y1: q1, y2: lo, stroke: '#555', 'stroke-width': 2.2, 'stroke-dasharray': '5 5' });
    
    
    const c1 = make('line', g, { x1: x - 3.5, x2: x + 3.5, y1: hi, y2: hi, stroke: '#444', 'stroke-width': 2.5 });
    
    
    const c2 = make('line', g, { x1: x - 3.5, x2: x + 3.5, y1: lo, y2: lo, stroke: '#444', 'stroke-width': 2.5 });
    
    
    const box = make('rect', g, { x: x - 6, y: q3, width: 12, height: q1 - q3, fill: i < dFusionCount ? '#1fa67f' : '#6c6fb4', stroke: '#6a6a78', 'stroke-width': 2.5 });
    
    
    const m = make('line', g, { x1: x - 5, x2: x + 5, y1: med, y2: med, stroke: '#0a0a14', 'stroke-width': 3.5 });
    
    
    const t = make('line', ax, { x1: x, x2: x, y1: 1522, y2: 1536, stroke: '#777', 'stroke-width': 2.5 });
    
    
    const l = make('text', ax, { transform: 'translate(' + (x + 7) + ',1547) rotate(-90)', 'text-anchor': 'end', 'font-size': 19 });
    
    
    l.setAttribute('style', 'fill:#222;font-weight:bold');
    l.textContent = dSampleIds[i];
  }
  for (let i = 0; i < dYTicks.length; i++) {
    const y = sy(dYTicks[i]);
    const t = make('line', ax, { x1: 136, x2: 147, y1: y, y2: y, stroke: '#777', 'stroke-width': 2.5 });
    
    
    const l = make('text', ax, { x: 122, y: y + 6, 'text-anchor': 'end', 'font-size': 18 });
    
    
    l.textContent = dYLabels[i];
  }
})();

// ---------- Panel e ----------
(function () {
  const sx = lin(1.5, 2848, 4, 3501), sy = lin(0, 1662, 1.4, 1108), g = byId('e-marks'), ax = byId('e-axes');
  const bandX = eUpperX.concat(eLowerX.slice().reverse());
  const bandY = eUpperY.concat(eLowerY.slice().reverse());
  drawArea(g, bandX, bandY, sx, sy, '#6f71b5', null, true);
  drawLine(g, eFusionLeftX, eFusionLeftY, sx, sy, '#1fa67f', 2.5);
  drawLine(g, eFusionRightX, eFusionRightY, sx, sy, '#1fa67f', 2.5);
  drawLine(g, eGapAX, eGapAY, sx, sy, '#c8c9e6', 2, .6);
  drawLine(g, eGapA2X, eGapA2Y, sx, sy, '#c8c9e6', 2, .6);
  drawLine(g, eGapBX, eGapBY, sx, sy, '#c8c9e6', 2, .6);
  drawLine(g, eGapB2X, eGapB2Y, sx, sy, '#c8c9e6', 2, .6);
  xAxis(ax, eXTicks, eXLabels, sx, 1685, 18, 1741, 28, .87, '#333');
  yAxis(ax, eYTicks, eYLabels, sy, 2781, 17, 2731, 27, .9, '#333');
})();

// ---------- Panel f ----------
(function () {
  const sx = lin(0, 240, 1, 1182), sy = lin(0, 2544, 15000, 1990), g = byId('f-marks'), ax = byId('f-axes');
  for (let i = 0; i < fCounts.length; i++) {
    const x0 = sx(i * fBinWidth);
    const x1 = sx((i + 1) * fBinWidth);
    const top = sy(fCounts[i]);
    const bar = make('rect', g, { x: x0 + 1, y: top, width: x1 - x0 - 2, height: sy(0) - top, fill: '#b5b6b7' });
    
    
  }
  const xl = make('line', ax, { x1: sx(0), x2: sx(1), y1: 2571, y2: 2571, stroke: '#333', 'stroke-width': 3.5 });
  
  
  const yl = make('line', ax, { x1: 202, x2: 202, y1: sy(0), y2: sy(15000), stroke: '#333', 'stroke-width': 3.5 });
  
  
  xAxis(ax, fXTicks, fXLabels, sx, 2571, 20, 2637, 30, .98, '#444');
  yAxis(ax, fYTicks, fYLabels, sy, 202, 17, 145, 36, .85, '#333');
})();

// ---------- Panel g ----------
(function () {
  const sx = lin(-4, 1530, 4, 2304.6), sy = lin(0, 2436.7, 30, 1932), g = byId('g-marks'), ax = byId('g-axes');
  drawLine(g, gBodyX, gBodyY, sx, sy, '#000', 17);
  drawRings(g, gTailX, gTailY, sx, sy);
  xAxis(ax, gXTicks, gXLabels, sx, 2575, 19, 2640, 33, .85, '#333');
  yAxis(ax, gYTicks, gYLabels, sy, 1459, 16, 1403, 34, .93, '#333');
})();

// ---------- Panel h ----------
(function () {
  const sx = lin(2, 2715, 3.5, 3334), sy = lin(-1, 1912, -7, 2554), g = byId('h-marks'), ax = byId('h-axes');
  drawArea(g, hOuterX, hOuterY, sx, sy, '#000', 'speck-rare');
  drawArea(g, hTailX, hTailY, sx, sy, '#000', 'speck-sparse');
  drawArea(g, hBroadX, hBroadY, sx, sy, '#000', 'speck-sparse');
  drawArea(g, hMidX, hMidY, sx, sy, '#000', 'speck-mid');
  drawArea(g, hDenseX, hDenseY, sx, sy, '#000', 'speck-dense');
  drawArea(g, hSolidX, hSolidY, sx, sy, '#000');
  drawPoints(g, hOutlierX, hOutlierY, sx, sy, '#000', 2);
  const p = make('line', g, { x1: 2618, x2: 3529, y1: sy(hPriorValue), y2: sy(hPriorValue), stroke: '#5a5cb0', 'stroke-width': 6, 'stroke-opacity': .7 });
  
  
  drawLine(g, hTrendX, hTrendY, sx, sy, '#e8404a', 4);
  xAxis(ax, hXTicks, hXLabels, sx, 2575, 21, 2643, 36, .88, '#333');
  yAxis(ax, hYTicks, hYLabels, sy, 2618, 17, 2563, 33, .82, '#333');
})();
</script>
</body>
</html>
